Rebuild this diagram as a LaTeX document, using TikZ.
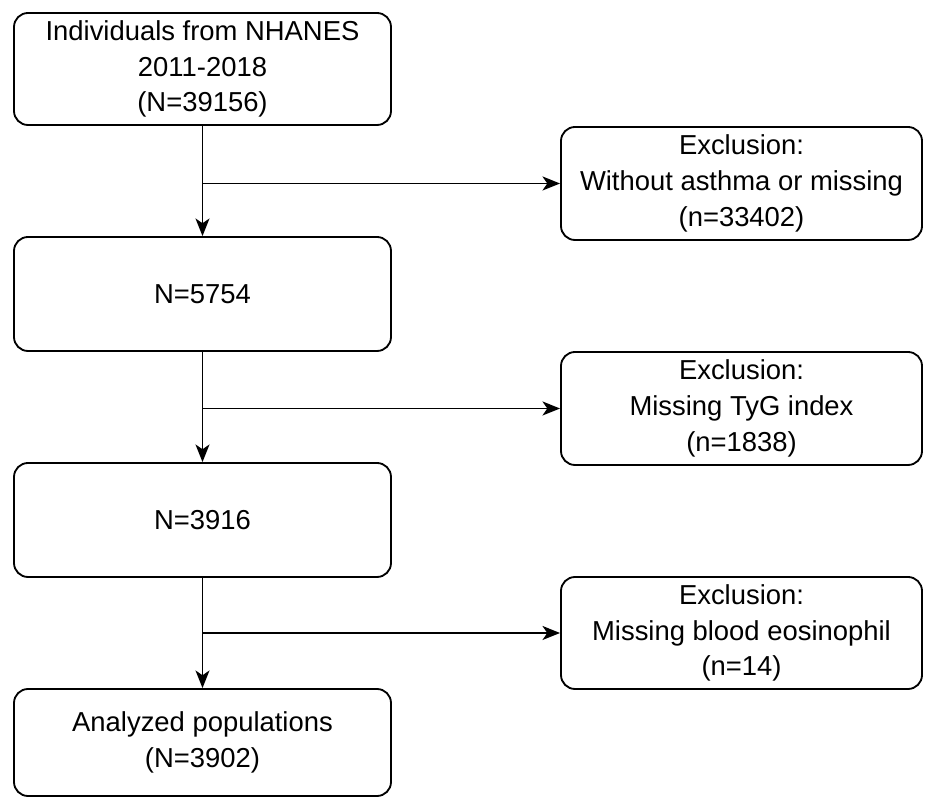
\documentclass[tikz,border=0pt]{standalone}
\usepackage{fontspec}
\setmainfont{Liberation Sans}
\usetikzlibrary{arrows.meta, positioning, calc}

\begin{document}
\begin{tikzpicture}[
    font=\fontsize{19.5}{25.5}\selectfont,
    >={Stealth[length=4.4mm, width=3.5mm, inset=1.2mm]},
    line width=1.3pt,
    stage/.style={
        draw,
        rounded corners=3.5mm,
        minimum width=9.425cm,
        minimum height=2.85cm,
        inner sep=0pt,
        align=center
    },
    exclusion/.style={
        draw,
        rounded corners=3.5mm,
        minimum width=9.025cm,
        minimum height=2.825cm,
        inner sep=0pt,
        align=center
    }
]

\useasboundingbox (0,0) rectangle (23.175,19.925);

% Main stages
\node[stage, minimum height=2.8cm] (source) at (5.0625,18.2)
{Individuals from NHANES\\
2011-2018\\
(N=39156)};

\node[stage] (asthma) at (5.0625,12.575) {N=5754};

\node[stage] (tyg) at (5.0625,6.925) {N=3916};

\node[stage, minimum height=2.675cm] (final) at (5.0625,1.3625)
{Analyzed populations\\
(N=3902)};

% Exclusions
\node[exclusion] (exasthma) at (18.5375,15.3375)
{Exclusion:\\
Without asthma or missing\\
(n=33402)};

\node[exclusion] (extyg) at (18.5375,9.7125)
{Exclusion:\\
Missing TyG index\\
(n=1838)};

\node[exclusion, minimum height=2.8cm] (exeos) at (18.5375,4.1)
{Exclusion:\\
Missing blood eosinophil\\
(n=14)};

% Main flow
\draw[->] (source) -- (asthma);
\draw[->] (asthma) -- (tyg);
\draw[->] (tyg) -- (final);

% Branches to exclusions
\coordinate (split1) at (source.south |- exasthma.west);
\coordinate (split2) at (asthma.south |- extyg.west);
\coordinate (split3) at (tyg.south |- exeos.west);

\draw[->] (split1) -- (exasthma.west);
\draw[->] (split2) -- (extyg.west);
\draw[->] (split3) -- (exeos.west);

\end{tikzpicture}
\end{document}
